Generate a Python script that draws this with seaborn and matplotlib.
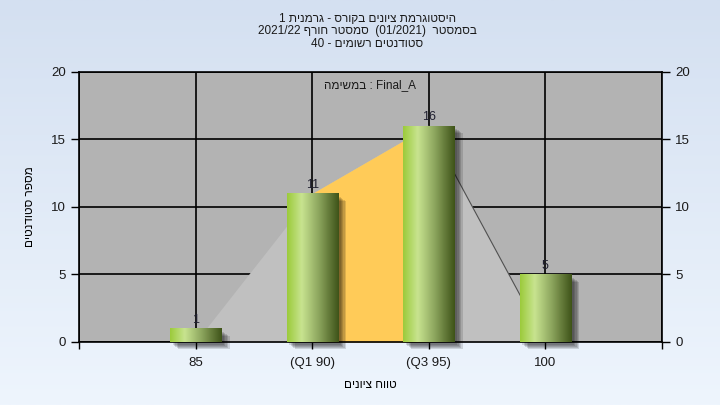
import numpy as np
import matplotlib
matplotlib.use('Agg')
import matplotlib.pyplot as plt
import matplotlib.patheffects as pe
from matplotlib.colors import LinearSegmentedColormap
import seaborn as sns

grades = ['85', '(Q1 90)', '(Q3 95)', '100']
students = [1, 11, 16, 5]
curve = [0, 11, 16, 0]   # shaded distribution area behind the bars

title_lines = ['היסטוגרמת ציונים בקורס - גרמנית 1',
               'בסמסטר  (01/2021)  סמסטר חורף 2021/22',
               'סטודנטים רשומים - 40']
task_label = 'במשימה : Final_A'
x_title = 'טווח ציונים'
y_title = 'מספר סטודנטים'

plt.rcParams['font.family'] = ['Liberation Sans', 'DejaVu Sans']


def is_heb(w):
    return any('\u0590' <= c <= '\u05ff' for c in w)


def rtl(s):
    # matplotlib has no bidi: lay the words out right to left by hand,
    # hebrew words get their letters flipped, numbers stay as they are
    words = s.split(' ')[::-1]
    return ' '.join(w[::-1] if is_heb(w) else w for w in words)


def flip_words(s):
    return ' '.join(w[::-1] if is_heb(w) else w for w in s.split(' '))


fig = plt.figure(figsize=(7.2, 4.05), dpi=100)

# page background gradient
bg = fig.add_axes([0, 0, 1, 1], zorder=-10)
bg_cmap = LinearSegmentedColormap.from_list('bg', ['#eef5fd', '#d4e0f1'])
bg.imshow(np.linspace(0, 1, 256).reshape(-1, 1), cmap=bg_cmap, aspect='auto',
          extent=[0, 1, 0, 1], origin='lower')
bg.axis('off')

ax = fig.add_axes([0.1097, 0.1556, 0.8097, 0.6667])
ax.set_facecolor('#b3b3b3')

sns.barplot(x=grades, y=students, color='#8fb050', width=0.44, ax=ax, zorder=3)

pos = np.arange(len(grades))
ax.fill_between(pos, curve, color='#c0c0c0', lw=0, zorder=2)
ax.fill_between(pos[1:3], curve[1:3], color='#ffcb58', lw=0, zorder=2)
ax.plot(pos[2:], curve[2:], color='#505050', lw=0.8, zorder=2)

bar_cmap = LinearSegmentedColormap.from_list(
    'bar', [(0, '#9ccb3c'), (0.28, '#c8e490'), (0.6, '#8fa860'), (1, '#3f5419')])
# soft drop shadow built from a few stacked offsets
shadow = [pe.SimplePatchShadow(offset=(d, -0.7 * d - 1), shadow_rgbFace='black', alpha=0.13)
          for d in (6, 5, 4, 3, 2)]
for p in ax.patches:
    x0, w, h = p.get_x(), p.get_width(), p.get_height()
    p.set_clip_on(False)
    p.set_path_effects(shadow + [pe.Normal()])
    im = ax.imshow(np.linspace(0, 1, 64).reshape(1, -1), cmap=bar_cmap, aspect='auto',
                   extent=[x0, x0 + w, 0, h], zorder=3.5, interpolation='bicubic')
    im.set_clip_path(p)

ax.bar_label(ax.containers[0], padding=2, fontsize=9, color='#202030', zorder=5)

ax.set_xlim(-1, 4)
ax.set_ylim(0, 20)
ax.set_xticks(range(-1, 5), [''] + grades + [''])
ax.set_yticks(range(0, 21, 5))
ax.grid(True, color='black', lw=1.2)
ax.set_axisbelow(True)
ax.tick_params(axis='x', length=5, width=1, labelsize=9.5, pad=6, labelcolor='#1a1a1a')
ax.tick_params(axis='y', length=6, width=1, labelsize=9.5, right=True, labelright=True,
               labelcolor='#1a1a1a')
for s in ax.spines.values():
    s.set_color('black')
    s.set_linewidth(1.2)

ax.text(0.5, 0.952, flip_words(task_label), transform=ax.transAxes, ha='center',
        va='center', fontsize=8.5, color='#1a1a1a')
ax.set_xlabel(rtl(x_title), fontsize=8.5, labelpad=7)
ax.set_ylabel(rtl(y_title), fontsize=8.5, labelpad=11)

fig.text(0.51, 0.968, '\n'.join(rtl(t) for t in title_lines), ha='center', va='top',
         fontsize=8.5, linespacing=1.05, color='#1a1a1a')

fig.savefig('out.png', dpi=100)
